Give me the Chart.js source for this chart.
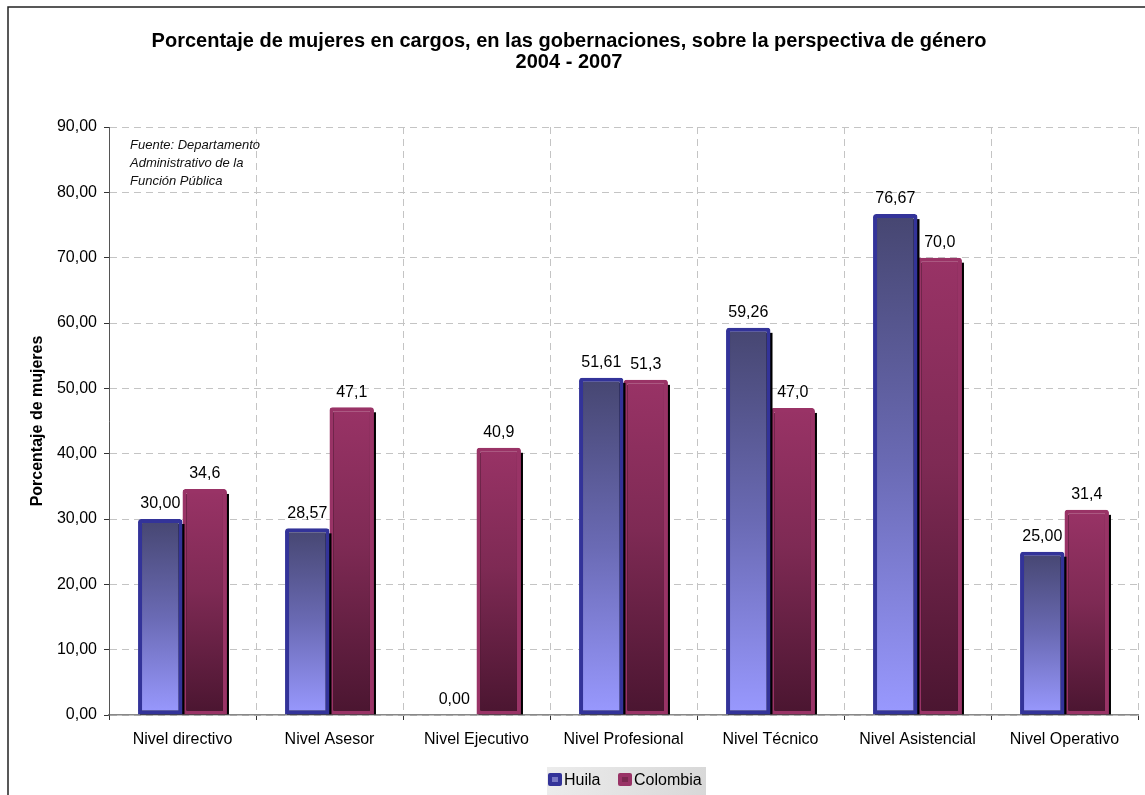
<!DOCTYPE html>
<html>
<head>
<meta charset="utf-8">
<script src="https://cdn.jsdelivr.net/npm/chart.js@4"></script>
<style>
  html, body { margin: 0; padding: 0; background: #fff; }
</style>
</head>
<body>
<canvas id="chart" width="1145" height="795"></canvas>
<script>
const categorias = ['Nivel directivo', 'Nivel Asesor', 'Nivel Ejecutivo', 'Nivel Profesional', 'Nivel Técnico', 'Nivel Asistencial', 'Nivel Operativo']
const huila = [30.00, 28.57, 0.00, 51.61, 59.26, 76.67, 25.00]
const colombia = [34.6, 47.1, 40.9, 51.3, 47.0, 70.0, 31.4]
const fuente = ['Fuente: Departamento', 'Administrativo de la', 'Función Pública']

const FONT = "'Liberation Sans', Arial, sans-serif"

// gradiente por barra (arriba -> abajo)
function degradado(stops, fallback) {
  return (c) => {
    const chart = c.chart
    if (c.type !== 'data' || !chart.chartArea || !chart.scales.y) return fallback
    const y = chart.scales.y
    const top = y.getPixelForValue(c.raw)
    const bottom = y.getPixelForValue(0)
    if (bottom - top < 1) return fallback
    const g = chart.ctx.createLinearGradient(0, top, 0, bottom)
    stops.forEach(s => g.addColorStop(s[0], s[1]))
    return g
  }
}

// sombra negra detras de cada barra
const sombra = {
  id: 'sombra',
  beforeDatasetDraw(chart, args) {
    const ctx = chart.ctx
    const meta = chart.getDatasetMeta(args.index)
    ctx.save()
    ctx.fillStyle = '#000'
    meta.data.forEach(bar => {
      const h = bar.base - bar.y
      if (h < 2) return
      ctx.fillRect(bar.x - bar.width / 2 + 2, bar.y + 5, bar.width, h - 5)
    })
    ctx.restore()
  }
}

const etiquetas = {
  id: 'etiquetas',
  afterDatasetsDraw(chart) {
    const ctx = chart.ctx
    ctx.save()
    ctx.font = '16px ' + FONT
    ctx.fillStyle = '#000'
    ctx.textAlign = 'center'
    ctx.textBaseline = 'bottom'
    chart.data.datasets.forEach((ds, i) => {
      const meta = chart.getDatasetMeta(i)
      meta.data.forEach((bar, j) => {
        const v = ds.data[j]
        const txt = v.toFixed(i === 0 ? 2 : 1).replace('.', ',')
        ctx.fillText(txt, bar.x, bar.y - 7)
      })
    })
    ctx.restore()
  }
}

const marco = {
  id: 'marco',
  afterDraw(chart) {
    const ctx = chart.ctx
    ctx.save()
    // borde del grafico
    ctx.strokeStyle = '#222'
    ctx.lineWidth = 1.5
    ctx.beginPath()
    ctx.moveTo(8, 800)
    ctx.lineTo(8, 7)
    ctx.lineTo(1150, 7)
    ctx.stroke()

    // fuente
    ctx.font = 'italic 13px ' + FONT
    ctx.fillStyle = '#111'
    ctx.textBaseline = 'middle'
    fuente.forEach((t, i) => ctx.fillText(t, 130, 145 + i * 18))

    // leyenda
    const g = ctx.createLinearGradient(547, 0, 706, 0)
    g.addColorStop(0, '#ececec')
    g.addColorStop(1, '#d8d8d8')
    ctx.fillStyle = g
    ctx.fillRect(547, 767, 159, 30)
    const items = [
      { txt: 'Huila', x: 548, borde: '#333399', relleno: '#7777c4' },
      { txt: 'Colombia', x: 618, borde: '#993366', relleno: '#7a2850' }
    ]
    ctx.font = '16px ' + FONT
    items.forEach(it => {
      ctx.fillStyle = it.borde
      ctx.beginPath()
      ctx.roundRect(it.x, 773, 14, 13, 2)
      ctx.fill()
      ctx.fillStyle = it.relleno
      ctx.fillRect(it.x + 4, 777, 6, 5)
      ctx.fillStyle = '#000'
      ctx.fillText(it.txt, it.x + 16, 781)
    })
    ctx.restore()
  }
}

const grid = {
  color: '#c4c4c4',
  lineWidth: 1,
  tickColor: '#333',
  tickLength: 5,
  tickBorderDash: []
}

new Chart(document.getElementById('chart'), {
  type: 'bar',
  data: {
    labels: categorias,
    datasets: [{
      label: 'Huila',
      data: huila,
      backgroundColor: degradado([[0, '#464671'], [0.5, '#6a6ab4'], [1, '#9999ff']], '#6a6ab4'),
      borderColor: '#333399',
      borderWidth: 4,
      borderSkipped: false,
      borderRadius: { topLeft: 3, topRight: 3 }
    }, {
      label: 'Colombia',
      data: colombia,
      backgroundColor: degradado([[0, '#993366'], [0.45, '#7e2a54'], [1, '#4a1530']], '#7a2850'),
      borderColor: '#993366',
      borderWidth: 4,
      borderSkipped: false,
      borderRadius: { topLeft: 3, topRight: 3 }
    }]
  },
  options: {
    responsive: false,
    animation: false,
    layout: { padding: { left: 0, right: 7, top: 0, bottom: 0 } },
    datasets: { bar: { categoryPercentage: 0.605, barPercentage: 1 } },
    plugins: {
      legend: { display: false },
      tooltip: { enabled: false },
      title: {
        display: true,
        text: ['Porcentaje de mujeres en cargos, en las gobernaciones, sobre la perspectiva de género', '2004 - 2007'],
        color: '#000',
        font: { family: FONT, size: 20, weight: 'bold', lineHeight: 1.05 },
        padding: { top: 31, bottom: 54 }
      }
    },
    scales: {
      x: {
        grid: { ...grid, offset: true },
        border: { color: '#888', width: 1.5, dash: [7, 5] },
        ticks: { color: '#000', font: { family: FONT, size: 16 }, padding: 10, maxRotation: 0 },
        afterFit(s) { s.height = 80 }
      },
      y: {
        min: 0,
        max: 90,
        grid: grid,
        border: { color: '#555', width: 1, dash: [7, 5] },
        ticks: {
          stepSize: 10,
          color: '#000',
          font: { family: FONT, size: 16 },
          padding: 7,
          callback: v => v.toFixed(2).replace('.', ',')
        },
        title: {
          display: true,
          text: 'Porcentaje de mujeres',
          color: '#000',
          font: { family: FONT, size: 16, weight: 'bold' },
          padding: { top: 28, bottom: 0 }
        },
        afterFit(s) { s.width = 109 }
      }
    }
  },
  plugins: [sombra, etiquetas, marco]
})
</script>
</body>
</html>
